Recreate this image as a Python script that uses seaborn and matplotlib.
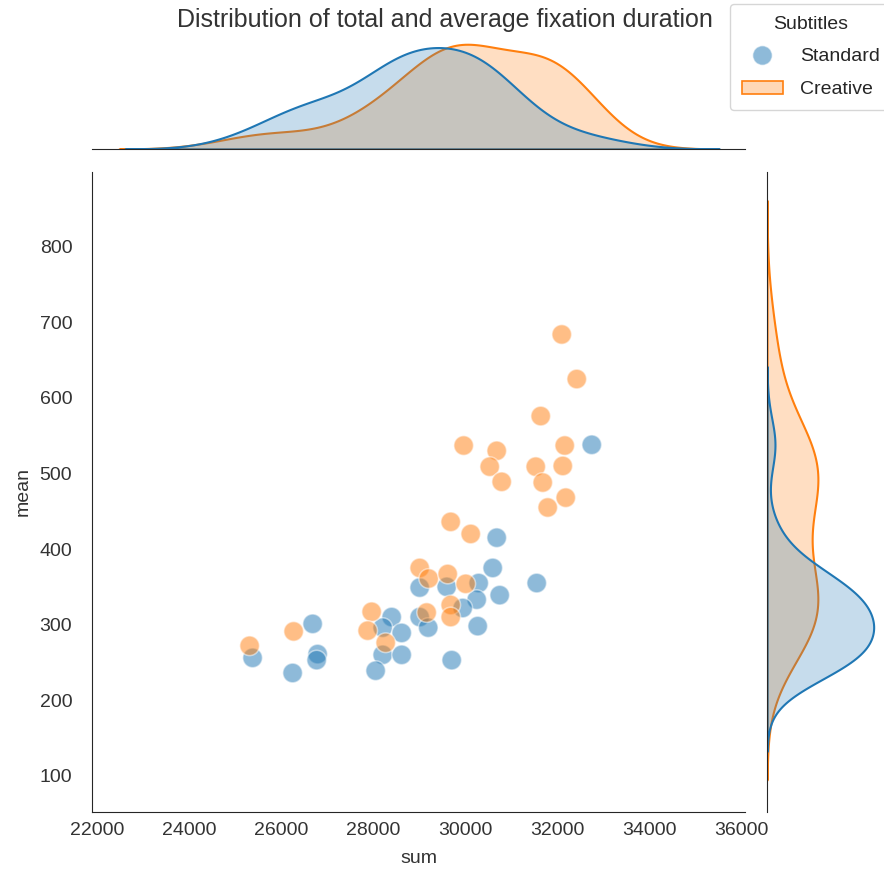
import matplotlib
matplotlib.use("Agg")
import matplotlib.pyplot as plt
import seaborn as sns
import pandas as pd
from matplotlib.lines import Line2D
from matplotlib.patches import Patch

standard_sum = [32750, 30685, 30598, 31554, 29011, 29598, 30293, 30750, 30250, 29946,
                30272, 29707, 29011, 29196, 28402, 28207, 28620, 28207, 28620, 28054,
                26685, 26793, 26772, 26250, 25380]
standard_mean = [538, 415, 375, 355, 349, 350, 355, 339, 333, 322,
                 298, 253, 310, 296, 310, 296, 289, 260, 260, 239,
                 301, 261, 253, 236, 256]
creative_sum = [32098, 32424, 31641, 29967, 30685, 32163, 30533, 30793, 31533, 32120,
                31685, 32185, 31793, 29685, 30120, 29011, 29207, 29620, 30011, 27967,
                27880, 28272, 29163, 29685, 29685, 26272, 25315]
creative_mean = [684, 625, 576, 537, 530, 537, 509, 489, 509, 510,
                 488, 468, 455, 436, 420, 375, 361, 367, 354, 317,
                 292, 276, 316, 326, 310, 291, 272]
groups = ["Standard", "Creative"]
x_ticks = [22000, 24000, 26000, 28000, 30000, 32000, 34000, 36000]
y_ticks = [100, 200, 300, 400, 500, 600, 700, 800]

df = pd.DataFrame({
    "sum": standard_sum + creative_sum,
    "mean": standard_mean + creative_mean,
    "Subtitles": [groups[0]] * len(standard_sum) + [groups[1]] * len(creative_sum),
})

sns.set_style("white")
plt.rcParams["font.family"] = ["Liberation Sans", "DejaVu Sans"]

W, H = 884, 875
g = sns.jointplot(data=df, x="sum", y="mean", hue="Subtitles", hue_order=groups,
                  height=8.75, s=200, alpha=0.5,
                  marginal_kws=dict(linewidth=1.5))
fig = g.figure
fig.set_size_inches(W / 100, H / 100)
fig.set_dpi(100)

def pos(l, t, r, b):
    return [l / W, 1 - b / H, (r - l) / W, (b - t) / H]

g.ax_joint.set_position(pos(92, 172, 745, 812))
g.ax_marg_x.set_position(pos(92, 39, 745, 149))
g.ax_marg_y.set_position(pos(767, 172, 879, 812))

ax = g.ax_joint
ax.set_xlim(21890, 36080)
ax.set_ylim(52, 899)
ax.set_xticks(x_ticks)
ax.set_yticks(y_ticks)
ax.tick_params(labelsize=14, colors="#333333")
ax.tick_params(axis="y", pad=plt.rcParams["ytick.major.pad"] + 7.2)
ax.set_xlabel("sum", fontsize=14, color="#333333", labelpad=8)
ax.set_ylabel("mean", fontsize=14, color="#333333", labelpad=6)

if ax.legend_ is not None:
    ax.legend_.remove()

pal = sns.color_palette()
handles = [
    Line2D([], [], marker="o", linestyle="", markersize=14, markerfacecolor=pal[0],
           markeredgecolor="white", alpha=0.5),
    Patch(facecolor=(*pal[1], 0.3), edgecolor=pal[1], linewidth=1.2),
]
fig.legend(handles, groups, title="Subtitles", loc="upper left",
           bbox_to_anchor=(730 / W, 1 - 4 / H), borderaxespad=0, borderpad=0.6,
           fontsize=14, title_fontsize=14, labelspacing=0.78,
           handlelength=2.1, handletextpad=0.9, frameon=True)

fig.suptitle("Distribution of total and average fixation duration", fontsize=18,
             x=0.503, y=1 - 20 / H, va="center", color="#333333")

fig.savefig("out.png", dpi=100)
